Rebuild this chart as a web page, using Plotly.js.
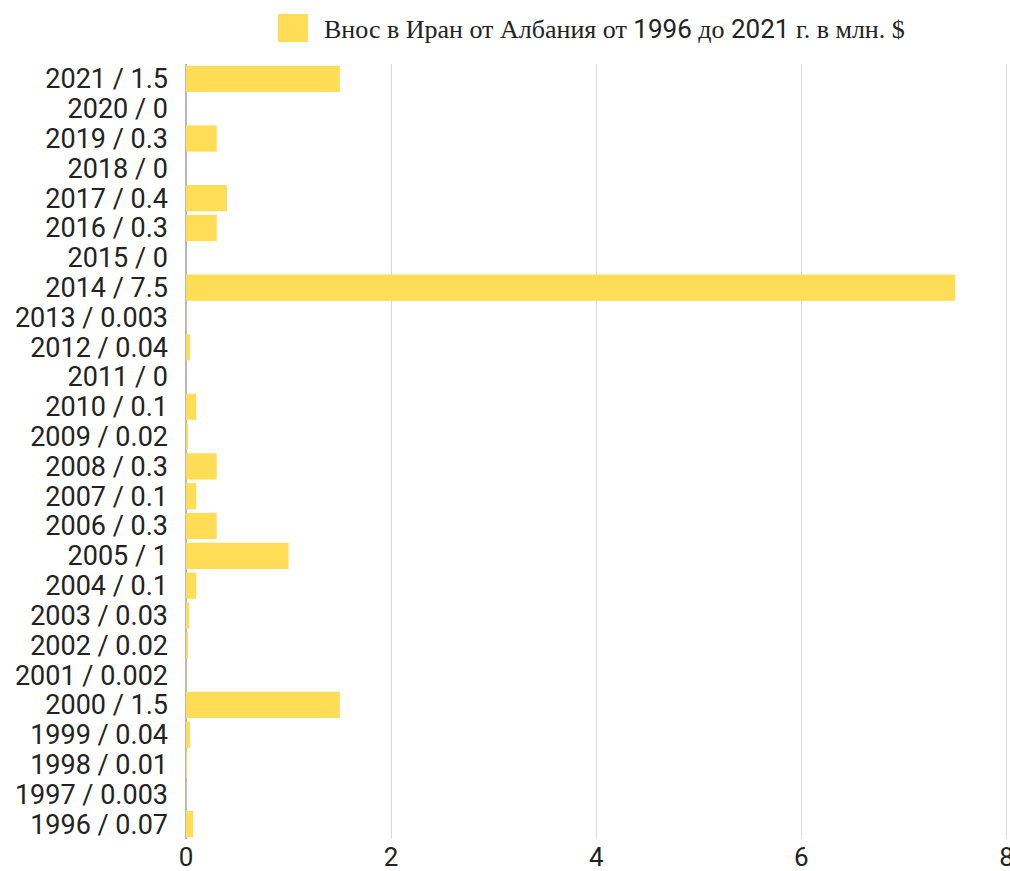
<!DOCTYPE html>
<html><head><meta charset="utf-8">
<script src="https://cdn.plot.ly/plotly-3.0.1.min.js"></script>
<style>html,body{margin:0;background:#fff;overflow:hidden}#chart{width:1030px;height:871px}</style>
</head><body><div id="chart"></div>
<script>
const years = ["1996","1997","1998","1999","2000","2001","2002","2003","2004","2005","2006","2007","2008","2009","2010","2011","2012","2013","2014","2015","2016","2017","2018","2019","2020","2021"];
const labelValues = ["0.07","0.003","0.01","0.04","1.5","0.002","0.02","0.03","0.1","1","0.3","0.1","0.3","0.02","0.1","0","0.04","0.003","7.5","0","0.3","0.4","0","0.3","0","1.5"];
const values = [0.07,0.003,0.01,0.04,1.5,0.002,0.02,0.03,0.1,1,0.3,0.1,0.3,0.02,0.1,0,0.04,0.003,7.5,0,0.3,0.4,0,0.3,0,1.5];
const seriesNameParts = ["Внос в Иран от Албания от ", "1996", " до ", "2021", " г. в млн. $"];
const xTicks = [0,2,4,6,8];
const categories = years.map((y,i)=>y+" / "+labelValues[i]);
const barColor = '#FFDD57';

const serif = "font-family:'Liberation Serif',serif";
const legendText = seriesNameParts.map((p,i)=> i%2===0 ? `<span style="${serif}">${p}</span>` : p).join('');

Plotly.newPlot('chart', [{
  type:'bar', orientation:'h', x: values, y: categories, name: seriesNameParts.join(''),
  marker:{color:barColor}, showlegend:false, hoverinfo:'x+y'
}], {
  width:1030, height:871,
  font:{family:'Roboto, sans-serif', size:26, color:'#222'},
  paper_bgcolor:'#fff', plot_bgcolor:'#fff',
  margin:{l:186, r:2.5, t:64, b:32},
  bargap:0.12,
  showlegend:false,
  shapes:[{type:'rect', xref:'paper', yref:'paper', x0:0.1093, x1:0.145, y0:1.0284, y1:1.0645, fillcolor:barColor, line:{width:0}}],
  annotations:[{xref:'paper', yref:'paper', x:0.1616, y:1.045, xanchor:'left', yanchor:'middle', showarrow:false, text:legendText, font:{size:26, color:'#222', family:'Roboto, sans-serif'}}],
  xaxis:{range:[0,8.2], tickmode:'array', tickvals:xTicks, ticktext:xTicks.map(String), showgrid:true, gridcolor:'#d9d9d9', gridwidth:1, zeroline:true, zerolinecolor:'#b8b8b8', zerolinewidth:2, ticks:'', tickfont:{size:26}, ticklabeloverflow:'allow', fixedrange:true},
  yaxis:{type:'category', categoryorder:'array', categoryarray:categories, tickmode:'array', tickvals:categories, ticktext:categories, showgrid:false, zeroline:false, ticks:'', ticklabelstandoff:17, tickfont:{size:27}, automargin:false}
}, {displayModeBar:false, staticPlot:true});
</script></body></html>
